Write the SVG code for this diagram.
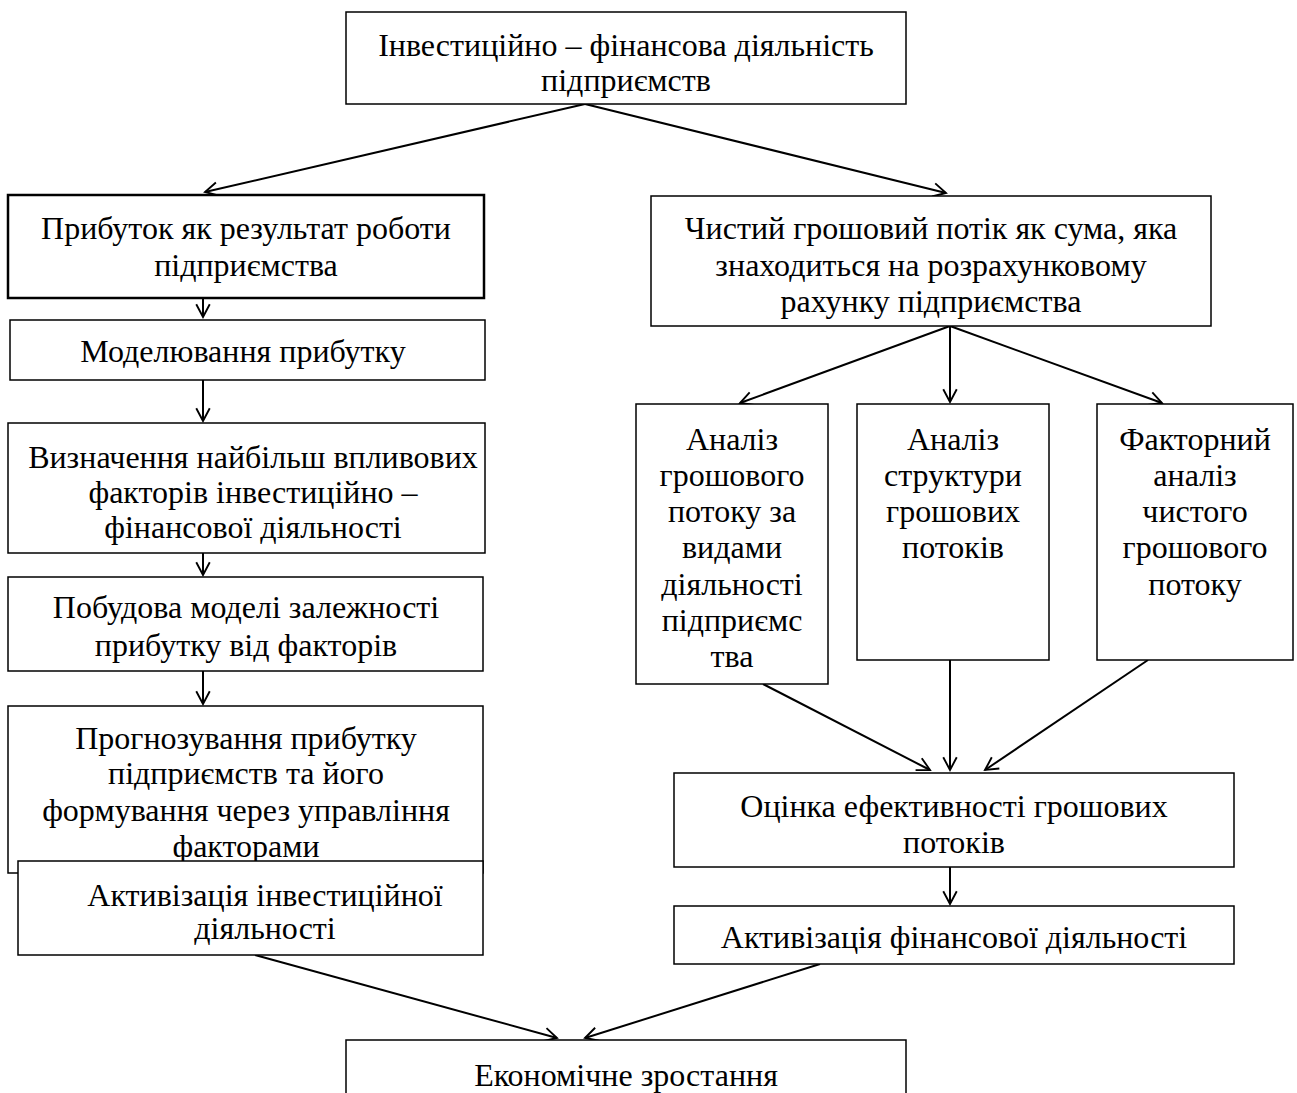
<svg xmlns="http://www.w3.org/2000/svg" width="1297" height="1093" viewBox="0 0 1297 1093">
<style>
.n rect{fill:#fff;stroke:#000;stroke-width:1.5}
.n rect.thick{stroke-width:2.5}
text{font-family:"Liberation Serif","Times New Roman",serif;font-size:32px;fill:#000;text-anchor:middle}
.c line{stroke:#000;stroke-width:2;marker-end:url(#a)}
</style>
<defs>
<marker id="a" viewBox="0 0 20 20" refX="18" refY="10" markerWidth="15" markerHeight="15" markerUnits="userSpaceOnUse" orient="auto" overflow="visible">
<path d="M1,1 L18,10 L1,19" fill="none" stroke="#000" stroke-width="2.5"/>
</marker>
</defs>
<rect width="1297" height="1093" fill="#fff"/>
<g class="c" id="connectors">
<line x1="585" y1="104" x2="205" y2="192"/>
<line x1="585" y1="104" x2="946" y2="193"/>
<line x1="203" y1="298" x2="203" y2="317"/>
<line x1="203" y1="380" x2="203" y2="421"/>
<line x1="203" y1="553" x2="203" y2="575"/>
<line x1="203" y1="671" x2="203" y2="704"/>
<line x1="950" y1="326" x2="740" y2="403"/>
<line x1="950" y1="326" x2="950" y2="402"/>
<line x1="950" y1="326" x2="1162" y2="403"/>
<line x1="763" y1="684" x2="930" y2="770"/>
<line x1="950" y1="660" x2="950" y2="770"/>
<line x1="1148" y1="660" x2="985" y2="770"/>
<line x1="950" y1="867" x2="950" y2="904"/>
<line x1="255" y1="955" x2="557" y2="1038"/>
<line x1="820" y1="964" x2="585" y2="1038"/>
</g>
<g class="n" id="n-top"><rect x="346" y="12" width="560" height="92"/>
<text x="626" y="56">Інвестиційно – фінансова діяльність</text><text x="626" y="91">підприємств</text></g>
<g class="n" id="n-profit"><rect class="thick" x="8" y="195" width="476" height="103"/>
<text x="246" y="239">Прибуток як результат роботи</text><text x="246" y="276">підприємства</text></g>
<g class="n" id="n-model"><rect x="10" y="320" width="475" height="60"/>
<text x="243" y="362">Моделювання прибутку</text></g>
<g class="n" id="n-factors"><rect x="8" y="423" width="477" height="130"/>
<text x="253" y="468">Визначення найбільш впливових</text><text x="253" y="503">факторів інвестиційно –</text><text x="253" y="538">фінансової діяльності</text></g>
<g class="n" id="n-build"><rect x="8" y="577" width="475" height="94"/>
<text x="246" y="618">Побудова моделі залежності</text><text x="246" y="656">прибутку від факторів</text></g>
<g class="n" id="n-forecast"><rect x="8" y="706" width="475" height="167"/>
<text x="246" y="749">Прогнозування прибутку</text><text x="246" y="784">підприємств та його</text><text x="246" y="821">формування через управління</text><text x="246" y="857">факторами</text></g>
<g class="n" id="n-invest"><rect x="18" y="861" width="465" height="94"/>
<text x="265" y="906">Активізація інвестиційної</text><text x="265" y="939">діяльності</text></g>
<g class="n" id="n-cash"><rect x="651" y="196" width="560" height="130"/>
<text x="931" y="239">Чистий грошовий потік як сума, яка</text><text x="931" y="276">знаходиться на розрахунковому</text><text x="931" y="312">рахунку підприємства</text></g>
<g class="n" id="n-a1"><rect x="636" y="404" width="192" height="280"/>
<text x="732" y="450">Аналіз</text><text x="732" y="486">грошового</text><text x="732" y="522">потоку за</text><text x="732" y="558">видами</text><text x="732" y="595">діяльності</text><text x="732" y="631">підприємс</text><text x="732" y="667">тва</text></g>
<g class="n" id="n-a2"><rect x="857" y="404" width="192" height="256"/>
<text x="953" y="450">Аналіз</text><text x="953" y="486">структури</text><text x="953" y="522">грошових</text><text x="953" y="558">потоків</text></g>
<g class="n" id="n-a3"><rect x="1097" y="404" width="196" height="256"/>
<text x="1195" y="450">Факторний</text><text x="1195" y="486">аналіз</text><text x="1195" y="522">чистого</text><text x="1195" y="558">грошового</text><text x="1195" y="595">потоку</text></g>
<g class="n" id="n-eval"><rect x="674" y="773" width="560" height="94"/>
<text x="954" y="817">Оцінка ефективності грошових</text><text x="954" y="853">потоків</text></g>
<g class="n" id="n-fin"><rect x="674" y="906" width="560" height="58"/>
<text x="954" y="948">Активізація фінансової діяльності</text></g>
<g class="n" id="n-growth"><rect x="346" y="1040" width="560" height="60"/>
<text x="626" y="1086">Економічне зростання</text></g>
</svg>
